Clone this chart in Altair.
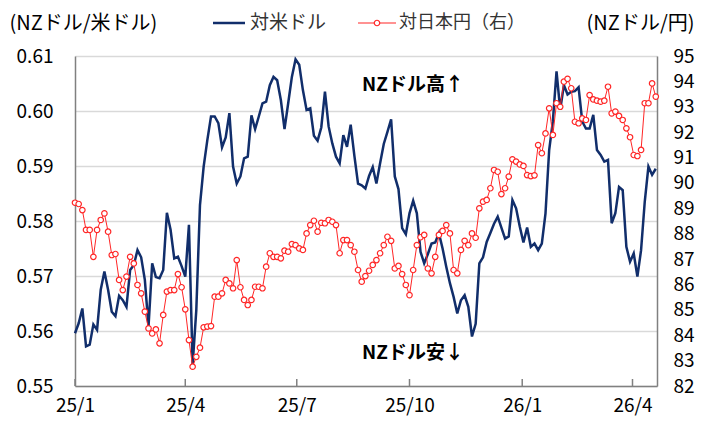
import altair as alt
import pandas as pd

# NZD/USD (left axis), sampled every 3 days from 2025-01-01
usd = [0.5596, 0.5614, 0.5641, 0.5572, 0.5575, 0.5612, 0.5602, 0.5675, 0.5708, 0.5675,
       0.5635, 0.5627, 0.5664, 0.5656, 0.5644, 0.5711, 0.5720, 0.5747, 0.5734, 0.5693,
       0.5608, 0.5723, 0.5698, 0.5696, 0.5711, 0.5815, 0.5784, 0.5732, 0.5735, 0.5718,
       0.5699, 0.5793, 0.5538, 0.5638, 0.5829, 0.5899, 0.5947, 0.5990, 0.5990, 0.5978,
       0.5934, 0.5952, 0.5996, 0.5899, 0.5868, 0.5881, 0.5914, 0.5917, 0.5992, 0.5967,
       0.5990, 0.6014, 0.6017, 0.6047, 0.6062, 0.6056, 0.6020, 0.5967, 0.6014, 0.6062,
       0.6094, 0.6084, 0.6038, 0.6002, 0.6005, 0.5955, 0.5946, 0.5970, 0.6035, 0.5972,
       0.5941, 0.5917, 0.5905, 0.5956, 0.5935, 0.5975, 0.5919, 0.5868, 0.5865, 0.5859,
       0.5882, 0.5898, 0.5868, 0.5905, 0.5940, 0.5962, 0.5985, 0.5881, 0.5858, 0.5787,
       0.5776, 0.5814, 0.5837, 0.5814, 0.5744, 0.5723, 0.5740, 0.5759, 0.5761, 0.5778,
       0.5750, 0.5717, 0.5687, 0.5662, 0.5632, 0.5656, 0.5665, 0.5644, 0.5590, 0.5613,
       0.5723, 0.5734, 0.5762, 0.5778, 0.5795, 0.5808, 0.5788, 0.5768, 0.5772, 0.5838,
       0.5823, 0.5790, 0.5761, 0.5788, 0.5753, 0.5759, 0.5747, 0.5759, 0.5814, 0.5929,
       0.5981, 0.6072, 0.6002, 0.6047, 0.6030, 0.6035, 0.6036, 0.6043, 0.5981, 0.5968,
       0.5968, 0.5993, 0.5929, 0.5920, 0.5908, 0.5911, 0.5796, 0.5814, 0.5862, 0.5856,
       0.5753, 0.5726, 0.5741, 0.5699, 0.5747, 0.5835, 0.5899, 0.5884, 0.5895]

# NZD/JPY (right axis), same dates
jpy = [89.22, 89.17, 88.93, 88.15, 88.15, 87.09, 88.15, 88.54, 88.80, 88.08,
       87.16, 87.20, 86.18, 85.78, 86.31, 87.09, 86.83, 85.98, 85.65, 84.93,
       84.27, 84.07, 84.23, 83.68, 84.80, 85.72, 85.78, 85.78, 86.41, 85.89,
       85.02, 83.81, 82.76, 83.15, 83.51, 84.31, 84.34, 84.36, 85.52, 85.52,
       85.65, 86.18, 86.04, 85.85, 86.96, 85.89, 85.39, 85.19, 85.39, 85.91,
       85.91, 85.85, 86.70, 87.23, 87.09, 87.09, 87.03, 87.33, 87.29, 87.59,
       87.55, 87.42, 87.36, 88.01, 88.34, 88.51, 88.08, 88.43, 88.41, 88.54,
       88.47, 88.34, 87.23, 87.75, 87.75, 87.55, 87.29, 86.57, 86.11, 86.33,
       86.54, 86.77, 86.96, 87.23, 87.55, 87.88, 87.72, 86.63, 86.73, 86.41,
       85.98, 85.58, 86.57, 87.55, 87.86, 87.95, 86.63, 86.44, 87.09, 87.95,
       88.11, 88.34, 88.01, 86.57, 86.44, 87.36, 87.72, 87.55, 88.01, 87.84,
       89.00, 89.26, 89.33, 89.79, 90.51, 90.44, 89.56, 89.79, 90.25, 90.93,
       90.84, 90.73, 90.67, 90.31, 90.27, 90.30, 91.49, 91.17, 91.95, 92.94,
       91.89, 93.14, 93.00, 93.99, 94.10, 93.73, 92.41, 92.35, 92.54, 92.48,
       93.46, 93.29, 93.24, 93.20, 93.24, 93.79, 92.74, 92.81, 92.64, 92.48,
       92.15, 91.80, 91.10, 91.06, 91.30, 93.14, 93.14, 93.92, 93.40]

start_date = "2025-01-01"
step = "3D"
tick_dates = ["2025-01-01", "2025-04-01", "2025-07-01", "2025-10-01", "2026-01-01", "2026-04-01"]
left_ticks = [0.55, 0.56, 0.57, 0.58, 0.59, 0.60, 0.61]
right_ticks = [82, 83, 84, 85, 86, 87, 88, 89, 90, 91, 92, 93, 94, 95]
legend_usd = "対米ドル"
legend_jpy = "対日本円（右）"
left_title = "(NZドル/米ドル)"
right_title = "(NZドル/円)"
note_up = "NZドル高↑"
note_down = "NZドル安↓"

dates = pd.date_range(start_date, periods=len(usd), freq=step)
df = pd.DataFrame({"date": dates, "usd": usd, "jpy": jpy})
tick_df = pd.DataFrame({"date": pd.to_datetime(tick_dates)})
one = pd.DataFrame({"a": [0]})

W, H = 582, 330
BLUE = "#112E6B"
RED = "#FF2626"
FONT = "Noto Sans CJK JP"

def dt(s):
    t = pd.Timestamp(s)
    return alt.DateTime(year=t.year, month=t.month, date=t.day)

xenc = alt.X(
    "date:T",
    scale=alt.Scale(domain=[dt("2025-01-01"), dt("2026-04-21")]),
    axis=alt.Axis(values=[dt(s) for s in tick_dates], format="%y/%-m", title=None,
                  ticks=False, grid=False, labelFontSize=19, labelPadding=10,
                  labelFlush=False, labelOverlap=False, domainColor="#808080",
                  domainWidth=1.5, labelColor="#000000"),
)

blue = alt.Chart(df).mark_line(color=BLUE, strokeWidth=2.5).encode(
    x=xenc,
    y=alt.Y("usd:Q",
            scale=alt.Scale(domain=[0.55, 0.61], nice=False, zero=False),
            axis=alt.Axis(values=left_ticks, format=".2f", title=left_title,
                          titleAngle=0, titleX=-66, titleY=-33, titleAlign="left",
                          titleBaseline="middle", titleFontWeight="normal",
                          titleFontSize=20, labelFontSize=19, labelPadding=22,
                          ticks=False, domainColor="#808080", domainWidth=1.5,
                          gridColor="#d9d9d9", gridWidth=1.5, labelColor="#000000",
                          titleColor="#000000")),
)

red_y = alt.Y("jpy:Q",
              scale=alt.Scale(domain=[82, 95], nice=False, zero=False),
              axis=alt.Axis(values=right_ticks, format="d", orient="right",
                            title=right_title, titleAngle=0, titleX=37, titleY=-33,
                            titleAlign="right", titleBaseline="middle",
                            titleFontWeight="normal", titleFontSize=20,
                            labelFontSize=19, labelPadding=16, ticks=False,
                            grid=False, domainColor="#808080", domainWidth=1.5,
                            labelColor="#000000", titleColor="#000000"))
red_line = alt.Chart(df).mark_line(color=RED, strokeWidth=1).encode(x=xenc, y=red_y)
red_pts = alt.Chart(df).mark_point(shape="circle", filled=False, fill="white",
                                   fillOpacity=1, color=RED, size=30,
                                   strokeWidth=1.2, opacity=1).encode(x=xenc, y=red_y)
red = alt.layer(red_line, red_pts)

ticks = alt.Chart(tick_df).mark_rule(color="#808080", strokeWidth=1.5).encode(
    x=xenc, y=alt.value(H - 7), y2=alt.value(H))

leg_rule_b = alt.Chart(one).mark_rule(color=BLUE, strokeWidth=2.5).encode(
    x=alt.value(138), x2=alt.value(170), y=alt.value(-33))
leg_text_b = alt.Chart(one).mark_text(align="left", baseline="middle", fontSize=19,
                                      font=FONT, color="#333333").encode(
    x=alt.value(175), y=alt.value(-33), text=alt.value(legend_usd))
leg_rule_r = alt.Chart(one).mark_rule(color=RED, strokeWidth=1.2).encode(
    x=alt.value(283), x2=alt.value(321), y=alt.value(-33))
leg_pt_r = alt.Chart(one).mark_point(shape="circle", filled=False, fill="white",
                                     fillOpacity=1, color=RED, size=30,
                                     strokeWidth=1.2, opacity=1).encode(
    x=alt.value(302), y=alt.value(-33))
leg_text_r = alt.Chart(one).mark_text(align="left", baseline="middle", fontSize=18,
                                      font=FONT, color="#333333").encode(
    x=alt.value(324), y=alt.value(-33), text=alt.value(legend_jpy))

note1 = alt.Chart(one).mark_text(align="center", baseline="middle", fontSize=19,
                                 fontWeight="bold", font=FONT, color="#000000").encode(
    x=alt.value(338), y=alt.value(29), text=alt.value(note_up))
note2 = alt.Chart(one).mark_text(align="center", baseline="middle", fontSize=19,
                                 fontWeight="bold", font=FONT, color="#000000").encode(
    x=alt.value(338), y=alt.value(297), text=alt.value(note_down))

chart = alt.layer(
    blue, red, ticks, leg_rule_b, leg_text_b, leg_rule_r, leg_pt_r, leg_text_r, note1, note2
).resolve_scale(y="independent").properties(
    width=W, height=H,
    padding={"left": 67, "top": 48, "right": 38, "bottom": 32},
    autosize=alt.AutoSizeParams(type="none"),
).configure_view(stroke=None).configure_axis(
    labelFont=FONT, titleFont=FONT
).configure_text(font=FONT)

chart.save("out.html", embed_options={"renderer": "svg", "actions": False})
